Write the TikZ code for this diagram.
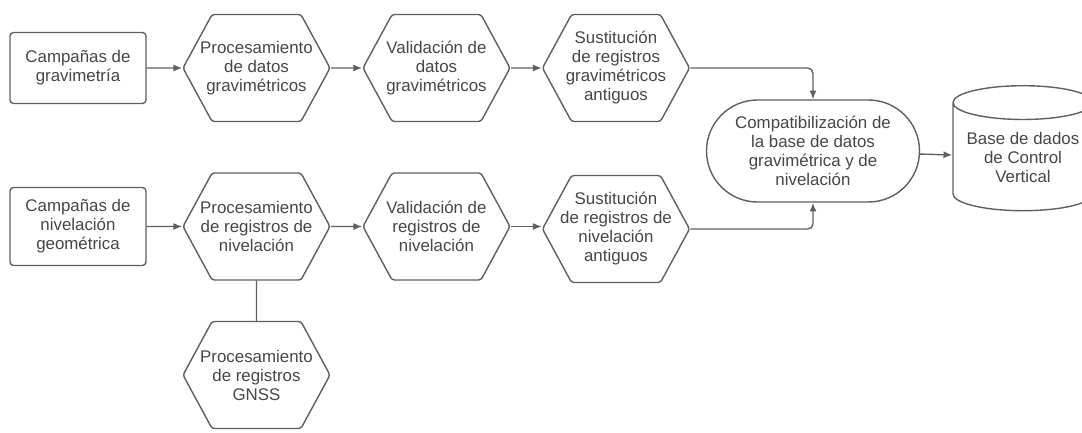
\documentclass[tikz,border=0pt]{standalone}
\usepackage{fontspec}
\setmainfont{Liberation Sans}
\usetikzlibrary{shapes.symbols,shapes.misc,shapes.geometric,arrows.meta}
\definecolor{lin}{RGB}{95,95,95}
\definecolor{txt}{RGB}{70,70,70}
\tikzset{
  base/.style={draw=lin,line width=0.8pt,text=txt,align=center,inner sep=0pt,
    font=\fontsize{9.6}{10.8}\selectfont},
  camp/.style={base,rectangle,rounded corners=2pt,minimum width=2.72cm},
  hexa/.style={base,signal,signal to=east and west,signal pointer angle=123,
    rounded corners=1.5pt,inner xsep=-0.24cm,minimum width=2.94cm,minimum height=2.14cm},
  ovalo/.style={base,rounded rectangle,minimum width=4.26cm,minimum height=2.04cm},
  bd/.style={base,cylinder,shape border rotate=90,aspect=0.3,
    minimum width=2.8cm,minimum height=2.5cm},
  flecha/.style={draw=lin,line width=0.8pt,-{Latex[length=5pt,width=4pt]}},
  linea/.style={draw=lin,line width=0.8pt}
}

\begin{document}
\begin{tikzpicture}
\useasboundingbox (0,0) rectangle (21.64,-8.66);
% fila de gravimetria
\node[camp,minimum height=1.42cm] (cg) at (1.56,-1.36) {Campañas de\\gravimetría};
\node[hexa] (pg) at (5.13,-1.36) {Procesamiento\\de datos\\gravimétricos};
\node[hexa] (vg) at (8.73,-1.36) {Validación de\\datos\\gravimétricos};
\node[hexa] (sg) at (12.32,-1.36) {Sustitución\\de registros\\gravimétricos\\antiguos};
% fila de nivelacion
\node[camp,minimum height=1.56cm] (cn) at (1.56,-4.53) {Campañas de\\nivelación\\geométrica};
\node[hexa] (pn) at (5.13,-4.53) {Procesamiento\\de registros de\\nivelación};
\node[hexa] (vn) at (8.73,-4.53) {Validación de\\registros de\\nivelación};
\node[hexa] (sn) at (12.32,-4.58) {Sustitución\\de registros de\\nivelación\\antiguos};
\node[hexa] (gnss) at (5.13,-7.5) {Procesamiento\\de registros\\GNSS};
% compatibilizacion y base
\node[ovalo] (comp) at (16.26,-3.02) {Compatibilización de\\la base de datos\\gravimétrica y de\\nivelación};
\node[bd] (bcv) at (20.46,-3.14) {Base de dados\\de Control\\Vertical};

\draw[flecha] (cg) -- (pg);
\draw[flecha] (pg) -- (vg);
\draw[flecha] (vg) -- (sg);
\draw[flecha,rounded corners=3pt] (sg.east) -| (comp.north);
\draw[flecha] (cn) -- (pn);
\draw[flecha] (pn) -- (vn);
\draw[flecha] (vn.east) -- (vn.east -| sn.west);
\draw[flecha,rounded corners=3pt] (sn.east) -| (comp.south);
\draw[flecha] (comp) -- (bcv);
\draw[linea] (pn) -- (gnss);
\end{tikzpicture}
\end{document}
